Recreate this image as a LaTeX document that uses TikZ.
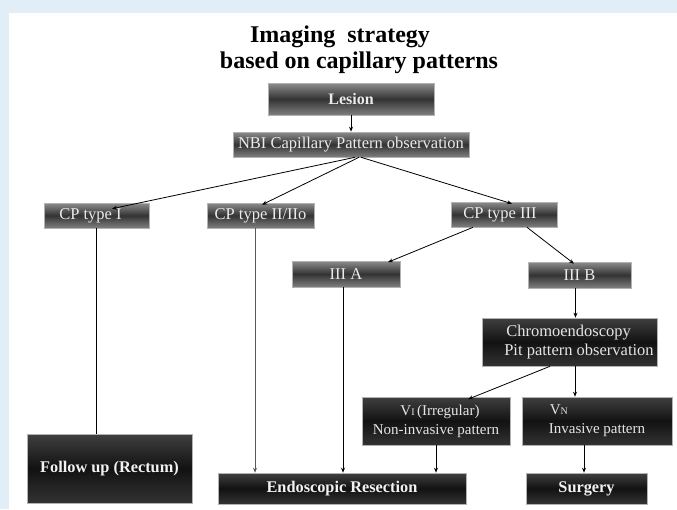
\documentclass[tikz,border=0pt]{standalone}
\usepackage{fontspec}
\setmainfont{Liberation Serif}
\usetikzlibrary{arrows.meta}
\definecolor{bgblue}{HTML}{E2EEF7}
\tikzset{
  x=1pt, y=-1pt,
  upbox/.style={rectangle, draw=gray!60, line width=0.6pt, inner sep=1pt,
    top color=black!45, bottom color=black!50, middle color=black!80,
    text=white!92!black, font=\fontsize{16.5}{18}\selectfont, align=center},
  lowbox/.style={rectangle, draw=gray!60, line width=0.6pt, inner sep=1pt,
    top color=black!75, bottom color=black!80, middle color=black!93,
    text=white!90!black, font=\fontsize{16.5}{19}\selectfont, align=center},
  boldbox/.style={lowbox, font=\bfseries\fontsize{16.3}{18}\selectfont, text=white!95!black},
  arr/.style={line width=0.8pt, -{Stealth[length=5pt,width=4pt]}},
  plain/.style={line width=0.8pt},
  title/.style={font=\bfseries\fontsize{24}{26}\selectfont}
}
\begin{document}
\begin{tikzpicture}
\fill[bgblue] (0,0) rectangle (677,509);
\fill[white] (9,13) rectangle (677,509);
\useasboundingbox (0,0) rectangle (677,509);

\node[title] (t1) at (340,37) {Imaging\ \ strategy};
\node[title] (t2) at (359,63) {based on capillary patterns};

\node[upbox, font=\bfseries\fontsize{16}{18}\selectfont, minimum width=166pt, minimum height=32pt] (lesion) at (351,99) {Lesion};
\node[upbox, minimum width=236pt, minimum height=25pt] (nbi) at (351,144.5) {NBI Capillary Pattern observation};
\node[upbox, minimum width=105pt, minimum height=25pt] (cp1) at (96.5,215.5) {CP type I\hspace*{12pt}};
\node[upbox, minimum width=107pt, minimum height=25pt] (cp2) at (260.5,215.5) {CP type II/IIo};
\node[upbox, minimum width=106pt, minimum height=25pt] (cp3) at (504,214.5) {CP type III\hspace*{8pt}};
\node[upbox, minimum width=108pt, minimum height=26pt] (iiia) at (346,274) {III A};
\node[upbox, minimum width=103pt, minimum height=26pt] (iiib) at (579.5,275) {III B};
\node[lowbox, align=left, minimum width=175pt, minimum height=48pt] (chromo) at (569.5,342) {\hspace*{21pt}Chromoendoscopy\\\hspace*{19pt}Pit pattern observation};
\node[lowbox, font=\fontsize{15}{19}\selectfont, minimum width=148pt, minimum height=48pt] (vi) at (436,421) {\hspace*{8pt}V{\fontsize{10}{12}\selectfont I}\,(Irregular)\\Non-invasive pattern};
\node[lowbox, align=left, font=\fontsize{15}{19}\selectfont, minimum width=150pt, minimum height=48pt] (vn) at (597,421) {\hspace*{1pt}V{\fontsize{10}{12}\selectfont N}\\Invasive pattern};
\node[boldbox, minimum width=165pt, minimum height=69pt] (follow) at (109.5,468.5) {Follow up (Rectum)};
\node[boldbox, minimum width=248pt, minimum height=31pt] (endo) at (342,488.5) {Endoscopic Resection};
\node[boldbox, minimum width=121pt, minimum height=31pt] (surg) at (586.5,488.5) {Surgery};

\draw[arr] (lesion.south) -- (nbi.north);
\draw[arr] ([xshift=4pt]nbi.south) -- ([xshift=15.5pt,yshift=-6pt]cp1.north);
\draw[arr] ([xshift=8pt]nbi.south) -- ([xshift=1.5pt,yshift=-2pt]cp2.north);
\draw[arr] ([xshift=10pt]nbi.south) -- ([xshift=8pt,yshift=-2pt]cp3.north);
\draw[arr] ([xshift=-31pt]cp3.south) -- ([xshift=42pt,yshift=-1.5pt]iiia.north);
\draw[arr] ([xshift=23pt]cp3.south) -- ([xshift=-5.5pt,yshift=-2pt]iiib.north);
\draw[plain] (cp1.south) -- (cp1.south |- follow.north);
\draw[arr, draw=black!65] ([xshift=-5.5pt]cp2.south) -- ([xshift=-5.5pt]cp2.south |- endo.north);
\draw[arr] ([xshift=-3pt]iiia.south) -- ([xshift=-3pt]iiia.south |- endo.north);
\draw[arr] ([xshift=-4pt]iiib.south) -- ([xshift=-4pt]iiib.south |- chromo.north);
\draw[arr] ([xshift=-19.5pt]chromo.south) -- ([xshift=32pt,yshift=-2.5pt]vi.north);
\draw[arr] ([xshift=5.5pt]chromo.south) -- ([xshift=5.5pt]chromo.south |- vn.north);
\draw[arr] (vi.south) -- (vi.south |- endo.north);
\draw[arr] ([xshift=-13pt]vn.south) -- ([xshift=-13pt]vn.south |- surg.north);
\end{tikzpicture}
\end{document}
